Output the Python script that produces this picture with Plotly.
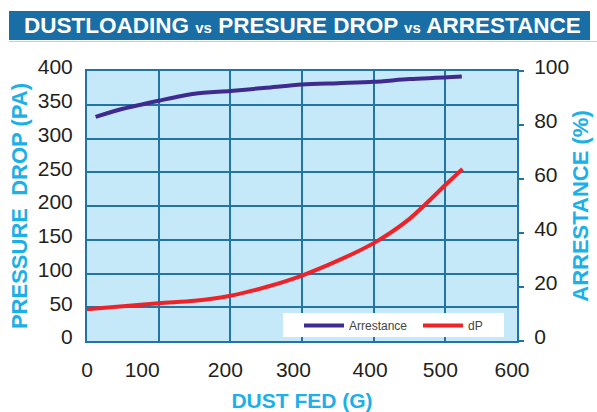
import plotly.graph_objects as go

# Data
arrest_x = [12, 50, 100, 150, 200, 250, 300, 350, 400, 450, 523]
arrest_y = [83, 86, 89, 91.6, 92.6, 93.8, 95, 95.5, 96, 97, 98]

dp_x = [0, 100, 150, 200, 250, 300, 350, 400, 450, 500, 524]
dp_y = [47, 56, 59.5, 67, 80, 97, 119, 145, 181, 231, 255]

# grid lines every 100 on x; the printed tick labels sit slightly off the grid
x_grid = [100, 200, 300, 400, 500]
x_label_pos = [0, 77, 193, 288, 395, 493, 593]
x_label_text = ["0", "100", "200", "300", "400", "500", "600"]
left_ticks = [0, 50, 100, 150, 200, 250, 300, 350, 400]
right_ticks = [0, 20, 40, 60, 80, 100]

W, H = 597, 412
L, R, T, B = 87, 80, 71, 71
pw, ph = W - L - R, H - T - B

def px_x(p):
    return (p - L) / pw

def px_y(p):
    return (H - B - p) / ph

GRID = "#2274a5"
CYAN = "#1cb0e8"
FONT = "Liberation Sans, Arial, Helvetica, sans-serif"

fig = go.Figure()
fig.add_trace(go.Scatter(
    x=arrest_x, y=arrest_y, name="Arrestance", yaxis="y2", mode="lines",
    line=dict(color="#3f2b90", width=4, shape="spline", smoothing=0.8),
))
fig.add_trace(go.Scatter(
    x=dp_x, y=dp_y, name="dP", mode="lines",
    line=dict(color="#ee2229", width=4, shape="spline", smoothing=0.8),
))

fig.update_layout(
    width=W, height=H,
    margin=dict(l=L, r=R, t=T, b=B, pad=0, autoexpand=False),
    paper_bgcolor="white",
    plot_bgcolor="#c6e9f9",
    font=dict(family=FONT, color="#231f20"),
    showlegend=True,
    legend=dict(
        orientation="h", x=px_x(299), y=px_y(311), xanchor="left", yanchor="top",
        bgcolor="rgba(0,0,0,0)", font=dict(size=12, color="#444444"),
        entrywidth=64, entrywidthmode="pixels", itemwidth=40,
        traceorder="normal",
    ),
    xaxis=dict(
        range=[0, 600], tickvals=x_label_pos, ticktext=x_label_text,
        showgrid=False,
        minor=dict(tickvals=x_grid, showgrid=True, gridcolor=GRID, gridwidth=1.5, ticks=""),
        showline=True, linecolor=GRID, linewidth=2, mirror=True,
        ticks="", tickfont=dict(size=21, color="#231f20"),
        ticklabelstandoff=9, zeroline=False, automargin=False,
        title=dict(text="<b>DUST FED (G)</b>", font=dict(size=21, color=CYAN), standoff=16),
    ),
    yaxis=dict(
        range=[0, 400], tickvals=left_ticks, ticktext=[str(v) for v in left_ticks],
        showgrid=True, gridcolor=GRID, gridwidth=1.5,
        showline=True, linecolor=GRID, linewidth=2, mirror=True,
        ticks="", tickfont=dict(size=21, color="#231f20"),
        ticklabelstandoff=8, ticklabelshift=-4, zeroline=False, automargin=False,
        title=dict(text="<b>PRESSURE  DROP (PA)</b>", font=dict(size=22, color=CYAN), standoff=4),
    ),
    yaxis2=dict(
        range=[0, 100], tickvals=right_ticks, ticktext=[str(v) for v in right_ticks],
        overlaying="y", side="right", showgrid=False, zeroline=False,
        ticks="outside", ticklen=6, tickwidth=1.5, tickcolor=GRID,
        tickfont=dict(size=21, color="#231f20"), ticklabelstandoff=6, ticklabelshift=-4,
        automargin=False,
        title=dict(text="<b>ARRESTANCE (%)</b>", font=dict(size=22, color=CYAN), standoff=4),
    ),
)

# Legend box (white panel inside the plot area)
fig.add_shape(type="rect", xref="paper", yref="paper",
              x0=px_x(283), x1=px_x(504), y0=px_y(337), y1=px_y(313),
              fillcolor="white", line=dict(width=0), layer="above")

# Title banner
fig.add_shape(type="rect", xref="paper", yref="paper",
              x0=px_x(9), x1=px_x(590), y0=px_y(40), y1=px_y(11),
              fillcolor="#196ea6", line=dict(width=0), layer="above")
fig.add_shape(type="line", xref="paper", yref="paper",
              x0=px_x(9), x1=px_x(597), y0=px_y(41.5), y1=px_y(41.5),
              line=dict(color="#cccccc", width=1))
fig.add_annotation(
    xref="paper", yref="paper", x=px_x(302), y=px_y(25.5),
    xanchor="center", yanchor="middle", showarrow=False,
    text=("<b>DUSTLOADING <span style='font-size:15px'>vs</span> PRESURE DROP "
          "<span style='font-size:15px'>vs</span> ARRESTANCE</b>"),
    font=dict(size=22.5, color="white", family=FONT),
)

fig.write_html(
    "out.html",
    config={"displayModeBar": False},
    post_script="document.body.style.margin='0';document.body.style.overflow='hidden';",
)
